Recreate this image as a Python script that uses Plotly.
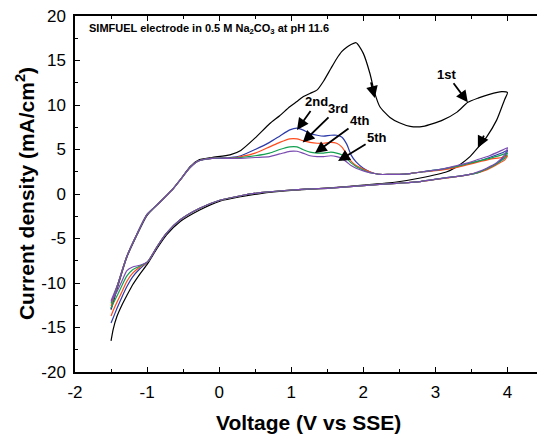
import plotly.graph_objects as go

# ---------------- data ----------------
V_FWD = [-1.5, -1.4, -1.28, -1.14, -1.0, -0.82, -0.66, -0.54, -0.4, -0.29, -0.1, 0.15, 0.3,
         0.5, 0.7, 0.84, 0.98, 1.08, 1.16, 1.26, 1.36, 1.45, 1.55, 1.63, 1.7, 1.77, 1.83, 1.9,
         2.0, 2.09, 2.16, 2.23, 2.37, 2.5, 2.65, 2.83, 3.1, 3.3, 3.45, 3.6, 3.75, 3.92, 4.0]
V_REV = [3.96, 3.85, 3.71, 3.59, 3.48, 3.34, 3.16, 2.79, 2.46, 2.0, 1.54, 1.0, 0.57, 0.3, 0.01,
         -0.27, -0.54, -0.73, -0.86, -0.99, -1.1, -1.2, -1.28, -1.35, -1.42, -1.47, -1.5]

J1_FWD = [-13.0, -10.2, -7.1, -4.6, -2.4, -0.9, 0.4, 1.6, 3.1, 3.8, 4.1, 4.4, 4.9,
          6.3, 7.9, 8.8, 9.8, 10.4, 10.9, 11.3, 11.7, 12.7, 14.1, 15.2, 16.0, 16.5, 16.8, 17.0,
          15.8, 13.6, 11.3, 9.8, 8.6, 8.0, 7.6, 7.6, 8.3, 9.2, 10.3, 10.8, 11.2, 11.5, 11.4]
J1_REV = [10.6, 8.3, 6.4, 5.2, 4.2, 3.3, 2.5, 1.8, 1.35, 1.0, 0.7, 0.4, 0.05, -0.3, -0.8,
          -1.8, -3.1, -4.6, -6.1, -7.8, -9.0, -10.2, -11.4, -12.5, -13.8, -15.2, -16.5]

J2_FWD = [-12.9, -10.0, -7.0, -4.5, -2.3, -0.9, 0.4, 1.6, 3.0, 3.7, 4.0, 4.1, 4.3,
          5.0, 5.8, 6.5, 7.2, 7.4, 7.2, 6.8, 6.6, 6.5, 6.6, 6.6, 6.4, 5.6, 4.4, 3.6,
          2.9, 2.5, 2.3, 2.2, 2.2, 2.2, 2.3, 2.5, 2.8, 3.1, 3.4, 3.7, 4.1, 4.6, 4.9]
J2_REV = [4.2, 3.4, 2.8, 2.4, 2.2, 2.0, 1.85, 1.4, 1.2, 0.95, 0.67, 0.45, 0.15, -0.2, -0.7,
          -1.6, -2.9, -4.4, -5.9, -7.6, -8.4, -9.3, -10.4, -11.6, -12.9, -13.9, -14.5]

J3_FWD = [-12.6, -10.0, -7.0, -4.5, -2.3, -0.9, 0.4, 1.6, 3.0, 3.7, 4.0, 4.0, 4.2,
          4.6, 5.3, 5.8, 6.2, 6.2, 6.0, 5.8, 5.7, 5.7, 5.8, 5.7, 5.3, 4.5, 3.7, 3.2,
          2.8, 2.5, 2.3, 2.2, 2.2, 2.2, 2.3, 2.5, 2.7, 3.0, 3.3, 3.6, 3.9, 4.1, 4.3]
J3_REV = [3.8, 3.3, 2.7, 2.4, 2.2, 2.0, 1.8, 1.4, 1.2, 0.95, 0.67, 0.45, 0.15, -0.2, -0.7,
          -1.6, -2.9, -4.4, -5.9, -7.6, -8.2, -8.9, -9.8, -11.0, -12.2, -13.1, -13.7]

J4_FWD = [-12.3, -10.0, -7.0, -4.5, -2.3, -0.9, 0.4, 1.6, 3.0, 3.7, 4.0, 4.0, 4.1,
          4.3, 4.6, 5.0, 5.3, 5.3, 5.0, 4.7, 4.6, 4.6, 4.7, 4.6, 4.4, 4.0, 3.5, 3.1,
          2.7, 2.4, 2.3, 2.2, 2.2, 2.2, 2.3, 2.5, 2.8, 3.1, 3.4, 3.7, 4.0, 4.4, 4.6]
J4_REV = [4.0, 3.4, 2.8, 2.4, 2.2, 2.0, 1.85, 1.4, 1.2, 0.95, 0.67, 0.45, 0.15, -0.2, -0.7,
          -1.6, -2.9, -4.4, -5.9, -7.6, -8.1, -8.5, -9.2, -10.3, -11.5, -12.3, -12.8]

J5_FWD = [-12.0, -10.0, -7.0, -4.5, -2.3, -0.9, 0.4, 1.6, 3.0, 3.7, 4.0, 4.0, 4.0,
          4.1, 4.2, 4.5, 4.8, 4.8, 4.6, 4.3, 4.2, 4.2, 4.3, 4.2, 4.0, 3.6, 3.2, 2.9,
          2.6, 2.4, 2.3, 2.2, 2.2, 2.2, 2.3, 2.5, 2.8, 3.2, 3.5, 3.9, 4.3, 4.9, 5.2]
J5_REV = [4.4, 3.5, 2.9, 2.5, 2.2, 2.0, 1.85, 1.4, 1.2, 0.95, 0.67, 0.45, 0.15, -0.2, -0.7,
          -1.6, -2.9, -4.4, -5.9, -7.6, -8.0, -8.2, -8.6, -9.8, -11.0, -11.7, -12.1]

CYCLES = ["1st", "2nd", "3rd", "4th", "5th"]
COLORS = ["#000000", "#2b3aa8", "#ff4a1c", "#12a050", "#7a4cb0"]
J_FWD = [J1_FWD, J2_FWD, J3_FWD, J4_FWD, J5_FWD]
J_REV = [J1_REV, J2_REV, J3_REV, J4_REV, J5_REV]

X_TICKS = [-2, -1, 0, 1, 2, 3, 4]
X_TICKTEXT = ["-2", "-1", "0", "1", "2", "3", "4"]
Y_TICKS = [-20, -15, -10, -5, 0, 5, 10, 15, 20]
Y_TICKTEXT = ["-20", "-15", "-10", "-5", "0", "5", "10", "15", "20"]

FONT = "Arial, 'Liberation Sans', sans-serif"

fig = go.Figure()
for name, col, jf, jr in zip(CYCLES, COLORS, J_FWD, J_REV):
    fig.add_trace(go.Scatter(
        x=V_FWD + V_REV, y=jf + jr, mode="lines", name=name,
        line=dict(color=col, width=1.2, shape="spline", smoothing=0.6),
        showlegend=False, hoverinfo="skip"))

# invisible trace for the top mirror axis
fig.add_trace(go.Scatter(x=[V_FWD[0]], y=[0], xaxis="x2", mode="markers",
                         marker=dict(opacity=0), showlegend=False, hoverinfo="skip"))

axis_common = dict(showline=True, linecolor="black", linewidth=1.5, ticks="inside",
                   ticklen=5, tickwidth=1.3, tickcolor="black", showgrid=False, zeroline=False)

fig.update_layout(
    width=537, height=434,
    margin=dict(l=75, r=0, t=16, b=62),
    plot_bgcolor="white", paper_bgcolor="white",
    font=dict(family=FONT, color="black"),
    xaxis=dict(range=[-2, 4.41], tickvals=X_TICKS, ticktext=X_TICKTEXT,
               tickfont=dict(size=17), ticklabelstandoff=4,
               minor=dict(ticks="inside", ticklen=3, tickcolor="black", dtick=0.5, tick0=-2),
               **axis_common),
    xaxis2=dict(range=[-2, 4.41], overlaying="x", side="top", showticklabels=False,
                tickvals=X_TICKS,
                minor=dict(ticks="inside", ticklen=3, tickcolor="black", dtick=0.5, tick0=-2),
                **axis_common),
    yaxis=dict(range=[-20, 20], tickvals=Y_TICKS, ticktext=Y_TICKTEXT,
               tickfont=dict(size=17), ticklabelstandoff=4,
               minor=dict(ticks="inside", ticklen=3, tickcolor="black", dtick=2.5, tick0=-20),
               **axis_common),
)

ann = []
# axis titles
ann.append(dict(text="<b>Voltage (V vs SSE)</b>", xref="paper", yref="paper",
                x=0.506, y=-0.143, showarrow=False, font=dict(size=21),
                xanchor="center", yanchor="middle"))
ann.append(dict(text="<b>Current density (mA/cm<sup>2</sup>)</b>", xref="paper", yref="paper",
                x=-0.108, y=0.5, showarrow=False, font=dict(size=21), textangle=-90,
                xanchor="center", yanchor="middle"))
# in-plot title
ann.append(dict(text="<b>SIMFUEL electrode in 0.5 M Na<sub>2</sub>CO<sub>3</sub> at pH 11.6</b>",
                xref="paper", yref="paper", x=0.026, y=0.963, showarrow=False,
                font=dict(size=11), xanchor="left", yanchor="middle"))

ARROW = dict(showarrow=True, arrowhead=2, arrowsize=1.3, arrowwidth=1.8, arrowcolor="black")

# direction arrows drawn on the 1st cycle (tip in data coords, tail as pixel offset)
for x, y, ax, ay in [(2.16, 10.8, -6, -24), (3.59, 5.2, 9, -18)]:
    ann.append(dict(x=x, y=y, xref="x", yref="y", ax=ax, ay=ay, text=" ", **ARROW))

# cycle labels with arrows pointing at each curve
labels = [("1st", 3.45, 10.3, -21, -28), ("2nd", 1.08, 7.2, 20, -28),
          ("3rd", 1.16, 5.8, 35, -34), ("4th", 1.33, 4.6, 45, -33),
          ("5th", 1.65, 3.7, 39, -24)]
for t, x, y, ax, ay in labels:
    ann.append(dict(text="<b>%s</b>" % t, x=x, y=y, xref="x", yref="y", ax=ax, ay=ay,
                    font=dict(size=13), standoff=0, **ARROW))

fig.update_layout(annotations=ann)
fig.write_html("out.html")
